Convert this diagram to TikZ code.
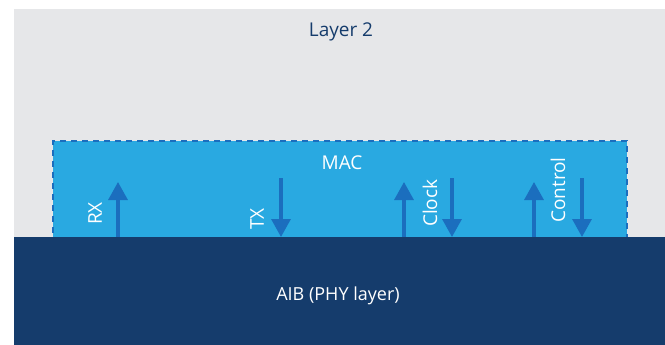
\documentclass[tikz,border=0pt]{standalone}
\usepackage{fontspec}
\setmainfont{Open Sans}
\usetikzlibrary{arrows.meta, positioning}
\definecolor{layergray}{HTML}{E6E7E9}
\definecolor{macblue}{HTML}{29A9E1}
\definecolor{phynavy}{HTML}{153C6C}
\definecolor{sigblue}{HTML}{1B6EBE}

\tikzset{
	block/.style={draw=none, inner sep=0pt, anchor=north west},
	sig/.style={sigblue, line width=3.2pt, -{Triangle[width=19pt, length=18pt]}},
	siglabel/.style={white, rotate=90, anchor=west, inner sep=0pt, font=\fontsize{19}{22}\selectfont},
	title/.style={font=\fontsize{19}{22}\selectfont},
}

\begin{document}
\begin{tikzpicture}[x=1pt, y=-1pt]
\useasboundingbox (0,0) rectangle (665,345);
% background layers
\node (layer) [block, fill=layergray, minimum width=651pt, minimum height=336pt] at (14,9) {};
\node (layertitle) [title, phynavy] at (341,32) {Layer 2};
\node (mac) [block, fill=macblue, draw=sigblue, line width=2pt, dash pattern=on 6pt off 5pt, minimum width=574pt, minimum height=97pt] at (52,140) {};
\node (mactitle) [title, white] at (342,163) {MAC};
\node (aib) [block, fill=phynavy, minimum width=651pt, minimum height=108pt] at (14,237) {};
\node (aibtitle) [title, white, font=\fontsize{18}{21}\selectfont] at (338,296) {AIB (PHY layer)};

% signal ends
\coordinate (rx) at (118,182);
\coordinate (tx) at (281,178);
\coordinate (clkup) at (404,182);
\coordinate (clkdown) at (452,178);
\coordinate (ctlup) at (534,182);
\coordinate (ctldown) at (582,178);

\draw[sig] (aib.north -| rx) -- (rx);
\draw[sig] (tx) -- (aib.north -| tx);
\draw[sig] (aib.north -| clkup) -- (clkup);
\draw[sig] (clkdown) -- (aib.north -| clkdown);
\draw[sig] (aib.north -| ctlup) -- (ctlup);
\draw[sig] (ctldown) -- (aib.north -| ctldown);

\node (rxlabel) [siglabel] at (95,225) {RX};
\node (txlabel) [siglabel] at (257,230) {TX};
\node (clklabel) [siglabel] at (430,227) {Clock};
\node (ctllabel) [siglabel] at (558,223) {Control};
\end{tikzpicture}
\end{document}
